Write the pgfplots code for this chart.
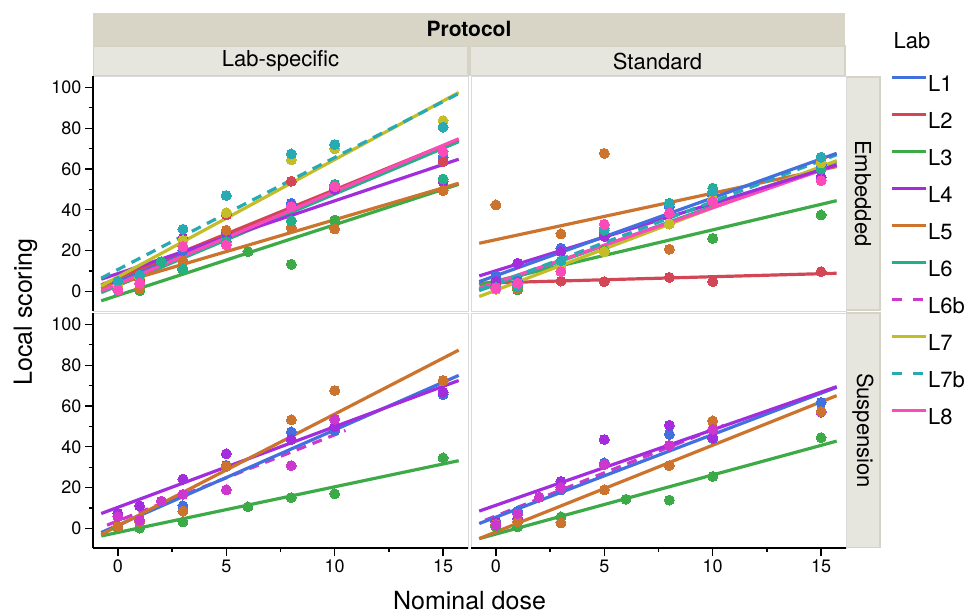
\documentclass[border=0pt]{standalone}
\usepackage{pgfplots}
\pgfplotsset{compat=1.18}
\usepackage{fontspec}
\setmainfont{TeX Gyre Heros}
\definecolor{cL1}{RGB}{66,112,222}
\definecolor{cL2}{RGB}{210,70,85}
\definecolor{cL3}{RGB}{60,170,70}
\definecolor{cL4}{RGB}{163,45,220}
\definecolor{cL5}{RGB}{204,115,45}
\definecolor{cL6}{RGB}{35,175,135}
\definecolor{cL6b}{RGB}{205,55,205}
\definecolor{cL7}{RGB}{195,190,40}
\definecolor{cL7b}{RGB}{40,170,180}
\definecolor{cL8}{RGB}{250,75,185}
\definecolor{stripA}{RGB}{216,213,198}
\definecolor{stripB}{RGB}{230,229,222}
\definecolor{stripE}{RGB}{213,211,198}
\pgfplotsset{
  panel/.style={scale only axis, width=375pt, height=235pt, anchor=south west,
    xmin=-1.15, xmax=16.15, ymin=-9.6, ymax=105.6,
    axis line style={draw=black!15, line width=0.8pt},
    tick align=outside, xtick pos=bottom, ytick pos=left,
    xtick={0,5,10,15}, minor xtick={2.5,7.5,12.5},
    ytick={0,20,40,60,80,100}, minor ytick={10,30,50,70,90},
    major tick length=8pt, minor tick length=4.5pt,
    tick style={black, line width=1.3pt},
    tick label style={font=\fontsize{18}{21}\selectfont},
    /pgf/number format/assume math mode=true,
    clip=false,
  },
  notx/.style={xtick=\empty, minor xtick=\empty},
  noty/.style={ytick=\empty, minor ytick=\empty},
  pts/.style={only marks, mark=*, mark size=5pt, color=#1, mark options={draw=#1, fill=#1, line width=0pt}, forget plot},
  fit/.style={no marks, line width=3.2pt, color=#1, forget plot},
  dsh/.style={dash pattern=on 10pt off 7pt},
}
\begin{document}
\begin{tikzpicture}
\useasboundingbox (0pt,0pt) rectangle (971pt,615pt);
% strips
\fill[stripA] (93pt,570pt) rectangle (845pt,602pt);
\filldraw[fill=stripB, draw=stripE, line width=1.2pt] (93.6pt,539.6pt) rectangle (468pt,569pt);
\filldraw[fill=stripB, draw=stripE, line width=1.2pt] (470pt,539.6pt) rectangle (845pt,569pt);
\filldraw[fill=stripB, draw=stripE, line width=1.2pt] (846.6pt,305pt) rectangle (880pt,538pt);
\filldraw[fill=stripB, draw=stripE, line width=1.2pt] (846.6pt,67.6pt) rectangle (880pt,302pt);
\node[font=\fontsize{21}{24}\selectfont\bfseries] at (469pt,586pt) {Protocol};
\node[font=\fontsize{22}{26}\selectfont] at (280.5pt,554pt) {Lab-specific};
\node[font=\fontsize{22}{26}\selectfont] at (657.5pt,554pt) {Standard};
\node[font=\fontsize{22}{26}\selectfont, rotate=-90] at (863pt,421.5pt) {Embedded};
\node[font=\fontsize{22}{26}\selectfont, rotate=-90] at (863pt,184.5pt) {Suspension};
\node[font=\fontsize{25}{30}\selectfont, rotate=90, anchor=base] at (32pt,303pt) {Local scoring};
\node[font=\fontsize{25}{30}\selectfont, anchor=base] at (469.5pt,5pt) {Nominal dose};
\node[font=\fontsize{22}{26}\selectfont, anchor=base west] at (890pt,566.5pt) {Lab};

% ---------------- Top-left: Embedded / Lab-specific
\begin{axis}[panel, notx, at={(93pt,304pt)}]
\addplot[pts=cL1] coordinates {(0,2) (1,5.6) (3,20) (5,27) (8,43.2) (10,50) (15,65.8)};
\addplot[pts=cL2] coordinates {(0,3) (1,6) (3,22) (5,37.5) (8,54) (10,51) (15,63.6)};
\addplot[pts=cL3] coordinates {(0,1) (1,0.4) (3,10.5) (6,19.5) (8,13.3) (10,35) (15,55)};
\addplot[pts=cL4] coordinates {(0,4) (1,8) (3,26) (5,29) (8,42) (10,50) (15,53.8)};
\addplot[pts=cL5] coordinates {(0,2) (1,1.5) (3,15) (5,30) (8,31.3) (10,30.6) (15,49.4)};
\addplot[pts=cL6] coordinates {(0,0.5) (1,4) (2,14.6) (3,11) (5,24.4) (8,34.7) (10,52.5) (15,55.1)};
\addplot[pts=cL7] coordinates {(0,3) (1,7) (3,25) (5,38.6) (8,64.5) (10,69.9) (15,83.7)};
\addplot[pts=cL7b] coordinates {(0,5) (1,8) (3,30.5) (5,47) (8,67.4) (10,72) (15,80.5)};
\addplot[pts=cL8] coordinates {(0,0.7) (1,4) (3,22) (5,22.8) (8,41.6) (10,51.4) (15,68.5)};
\addplot[fit=cL1] coordinates {(-0.77,1.5) (15.72,74)};
\addplot[fit=cL6] coordinates {(-0.77,-0.6) (15.72,73.4)};
\addplot[fit=cL2] coordinates {(-0.77,3.2) (15.72,74.6)};
\addplot[fit=cL3] coordinates {(-0.77,-4.6) (15.72,52.5)};
\addplot[fit=cL4] coordinates {(-0.77,6) (15.72,64.8)};
\addplot[fit=cL5] coordinates {(-0.77,1.5) (15.72,53)};
\addplot[fit=cL7] coordinates {(-0.77,2.7) (15.72,97.5)};
\addplot[fit=cL7b, dsh] coordinates {(-0.77,6.5) (15.72,97)};
\addplot[fit=cL8] coordinates {(-0.77,0.2) (15.72,74.8)};
\draw[black, line width=1.3pt] (rel axis cs:0,0) -- (rel axis cs:0,1);
\end{axis}

% ---------------- Top-right: Embedded / Standard
\begin{axis}[panel, notx, noty, at={(471pt,304pt)},
  legend style={at={(axis description cs:1.119,1.005)}, anchor=north west, draw=none, fill=none,
    inner sep=0pt, row sep=21pt, font=\fontsize{22}{26}\selectfont,
    nodes={inner sep=0pt, text height=16pt, text depth=0pt},
    /tikz/every even column/.append style={column sep=6pt}},
  legend cell align=left,
  legend image code/.code={\draw[#1] (0pt,5.5pt) -- (34pt,5.5pt);}]
\addlegendimage{line width=3.2pt, color=cL1}\addlegendentry{L1}
\addlegendimage{line width=3.2pt, color=cL2}\addlegendentry{L2}
\addlegendimage{line width=3.2pt, color=cL3}\addlegendentry{L3}
\addlegendimage{line width=3.2pt, color=cL4}\addlegendentry{L4}
\addlegendimage{line width=3.2pt, color=cL5}\addlegendentry{L5}
\addlegendimage{line width=3.2pt, color=cL6}\addlegendentry{L6}
\addlegendimage{line width=3.2pt, color=cL6b, dash pattern=on 10pt off 11pt}\addlegendentry{L6b}
\addlegendimage{line width=3.2pt, color=cL7}\addlegendentry{L7}
\addlegendimage{line width=3.2pt, color=cL7b, dash pattern=on 10pt off 11pt}\addlegendentry{L7b}
\addlegendimage{line width=3.2pt, color=cL8}\addlegendentry{L8}
\addplot[pts=cL1] coordinates {(0,7.3) (1,5) (3,21.2) (5,28.5) (8,41.6) (10,47) (15,62)};
\addplot[pts=cL2] coordinates {(0,3) (1,4) (3,5.1) (5,4.8) (8,6.9) (10,4.8) (15,9.7)};
\addplot[pts=cL3] coordinates {(0,1) (1,0.7) (3,12) (5,20) (8,33) (10,26) (15,37.5)};
\addplot[pts=cL4] coordinates {(0,5) (1,13.8) (3,19.5) (5,27) (8,38) (10,44) (15,56)};
\addplot[pts=cL5] coordinates {(0,42.4) (1,1.5) (3,28.2) (5,67.7) (8,20.7) (15,65.3)};
\addplot[pts=cL6] coordinates {(0,2) (1,2.4) (3,12) (5,30) (8,43.2) (10,50.6) (15,60)};
\addplot[pts=cL7] coordinates {(0,1) (1,3) (3,12) (5,19.5) (8,33) (10,45) (15,63)};
\addplot[pts=cL7b] coordinates {(0,2) (1,3) (3,15) (5,31) (8,43) (10,49) (15,65.8)};
\addplot[pts=cL8] coordinates {(0,1.5) (1,4) (3,9.7) (5,32.9) (8,38.3) (10,44) (15,54.3)};
\addplot[fit=cL5] coordinates {(-0.77,23.6) (15.72,61.2)};
\addplot[fit=cL2] coordinates {(-0.77,4) (15.72,8.9)};
\addplot[fit=cL3] coordinates {(-0.77,3.2) (15.72,44.5)};
\addplot[fit=cL6] coordinates {(-0.77,0.4) (15.72,63.6)};
\addplot[fit=cL7] coordinates {(-0.77,-2.5) (15.72,64.1)};
\addplot[fit=cL8] coordinates {(-0.77,1.5) (15.72,62)};
\addplot[fit=cL4] coordinates {(-0.77,7.6) (15.72,62)};
\addplot[fit=cL7b, dsh] coordinates {(-0.77,0.7) (15.72,67)};
\addplot[fit=cL1] coordinates {(-0.77,4.8) (15.72,67.7)};
\end{axis}

% ---------------- Bottom-left: Suspension / Lab-specific
\begin{axis}[panel, at={(93pt,67pt)}]
\addplot[pts=cL1] coordinates {(0,1) (1,3.5) (3,11.1) (5,30.9) (8,47.3) (10,48) (15,65.6)};
\addplot[pts=cL3] coordinates {(0,0) (1,0.2) (3,3.2) (6,10.6) (8,15.1) (10,17) (15,34.6)};
\addplot[pts=cL4] coordinates {(0,7.3) (1,11) (3,24.2) (5,36.6) (8,43.6) (10,49.8) (15,66.8)};
\addplot[pts=cL5] coordinates {(0,1) (1,3.2) (3,8.5) (5,30.4) (8,53.2) (10,67.6) (15,72.5)};
\addplot[pts=cL6b] coordinates {(0,5.7) (1,4) (2,13.4) (3,16.7) (5,18.9) (8,30.8) (10,53.5)};
\addplot[fit=cL3] coordinates {(-0.77,-3.7) (15.72,33.2)};
\addplot[fit=cL6b, dsh] coordinates {(-0.5,1.6) (10.5,48)};
\addplot[fit=cL1] coordinates {(-0.77,-2) (15.72,75)};
\addplot[fit=cL4] coordinates {(-0.77,7.3) (15.72,72.5)};
\addplot[fit=cL5] coordinates {(-0.77,-3) (15.72,87.4)};
\draw[black, line width=1.3pt] (rel axis cs:0,0) -- (rel axis cs:0,1);
\draw[black, line width=1.3pt] (rel axis cs:0,0) -- (rel axis cs:1,0);
\end{axis}

% ---------------- Bottom-right: Suspension / Standard
\begin{axis}[panel, noty, at={(471pt,67pt)}]
\addplot[pts=cL1] coordinates {(0,3.5) (1,8.5) (3,18.9) (5,32.1) (8,46.1) (10,44) (15,61.8)};
\addplot[pts=cL3] coordinates {(0,0.7) (1,0.7) (3,5.7) (6,14.3) (8,13.9) (10,25.5) (15,44.5)};
\addplot[pts=cL4] coordinates {(0,2.9) (1,5) (3,23) (5,43.6) (8,50.6) (10,44.5) (15,57)};
\addplot[pts=cL5] coordinates {(0,2) (1,3.2) (3,2.7) (5,18.9) (8,30.8) (10,52.7) (15,57.3)};
\addplot[pts=cL6b] coordinates {(0,1.6) (1,7.3) (2,15.3) (3,20) (5,31.3) (8,40.7) (10,48.6)};
\addplot[fit=cL3] coordinates {(-0.77,-5) (15.72,42.8)};
\addplot[fit=cL5] coordinates {(-0.77,-5) (15.72,65.1)};
\addplot[fit=cL6b, dsh] coordinates {(-0.5,4) (10.5,50.5)};
\addplot[fit=cL1] coordinates {(-0.77,2.4) (15.72,69.2)};
\addplot[fit=cL4] coordinates {(-0.77,8.5) (15.72,69.5)};
\draw[black, line width=1.3pt] (rel axis cs:0,0) -- (rel axis cs:1,0);
\end{axis}
\end{tikzpicture}
\end{document}
